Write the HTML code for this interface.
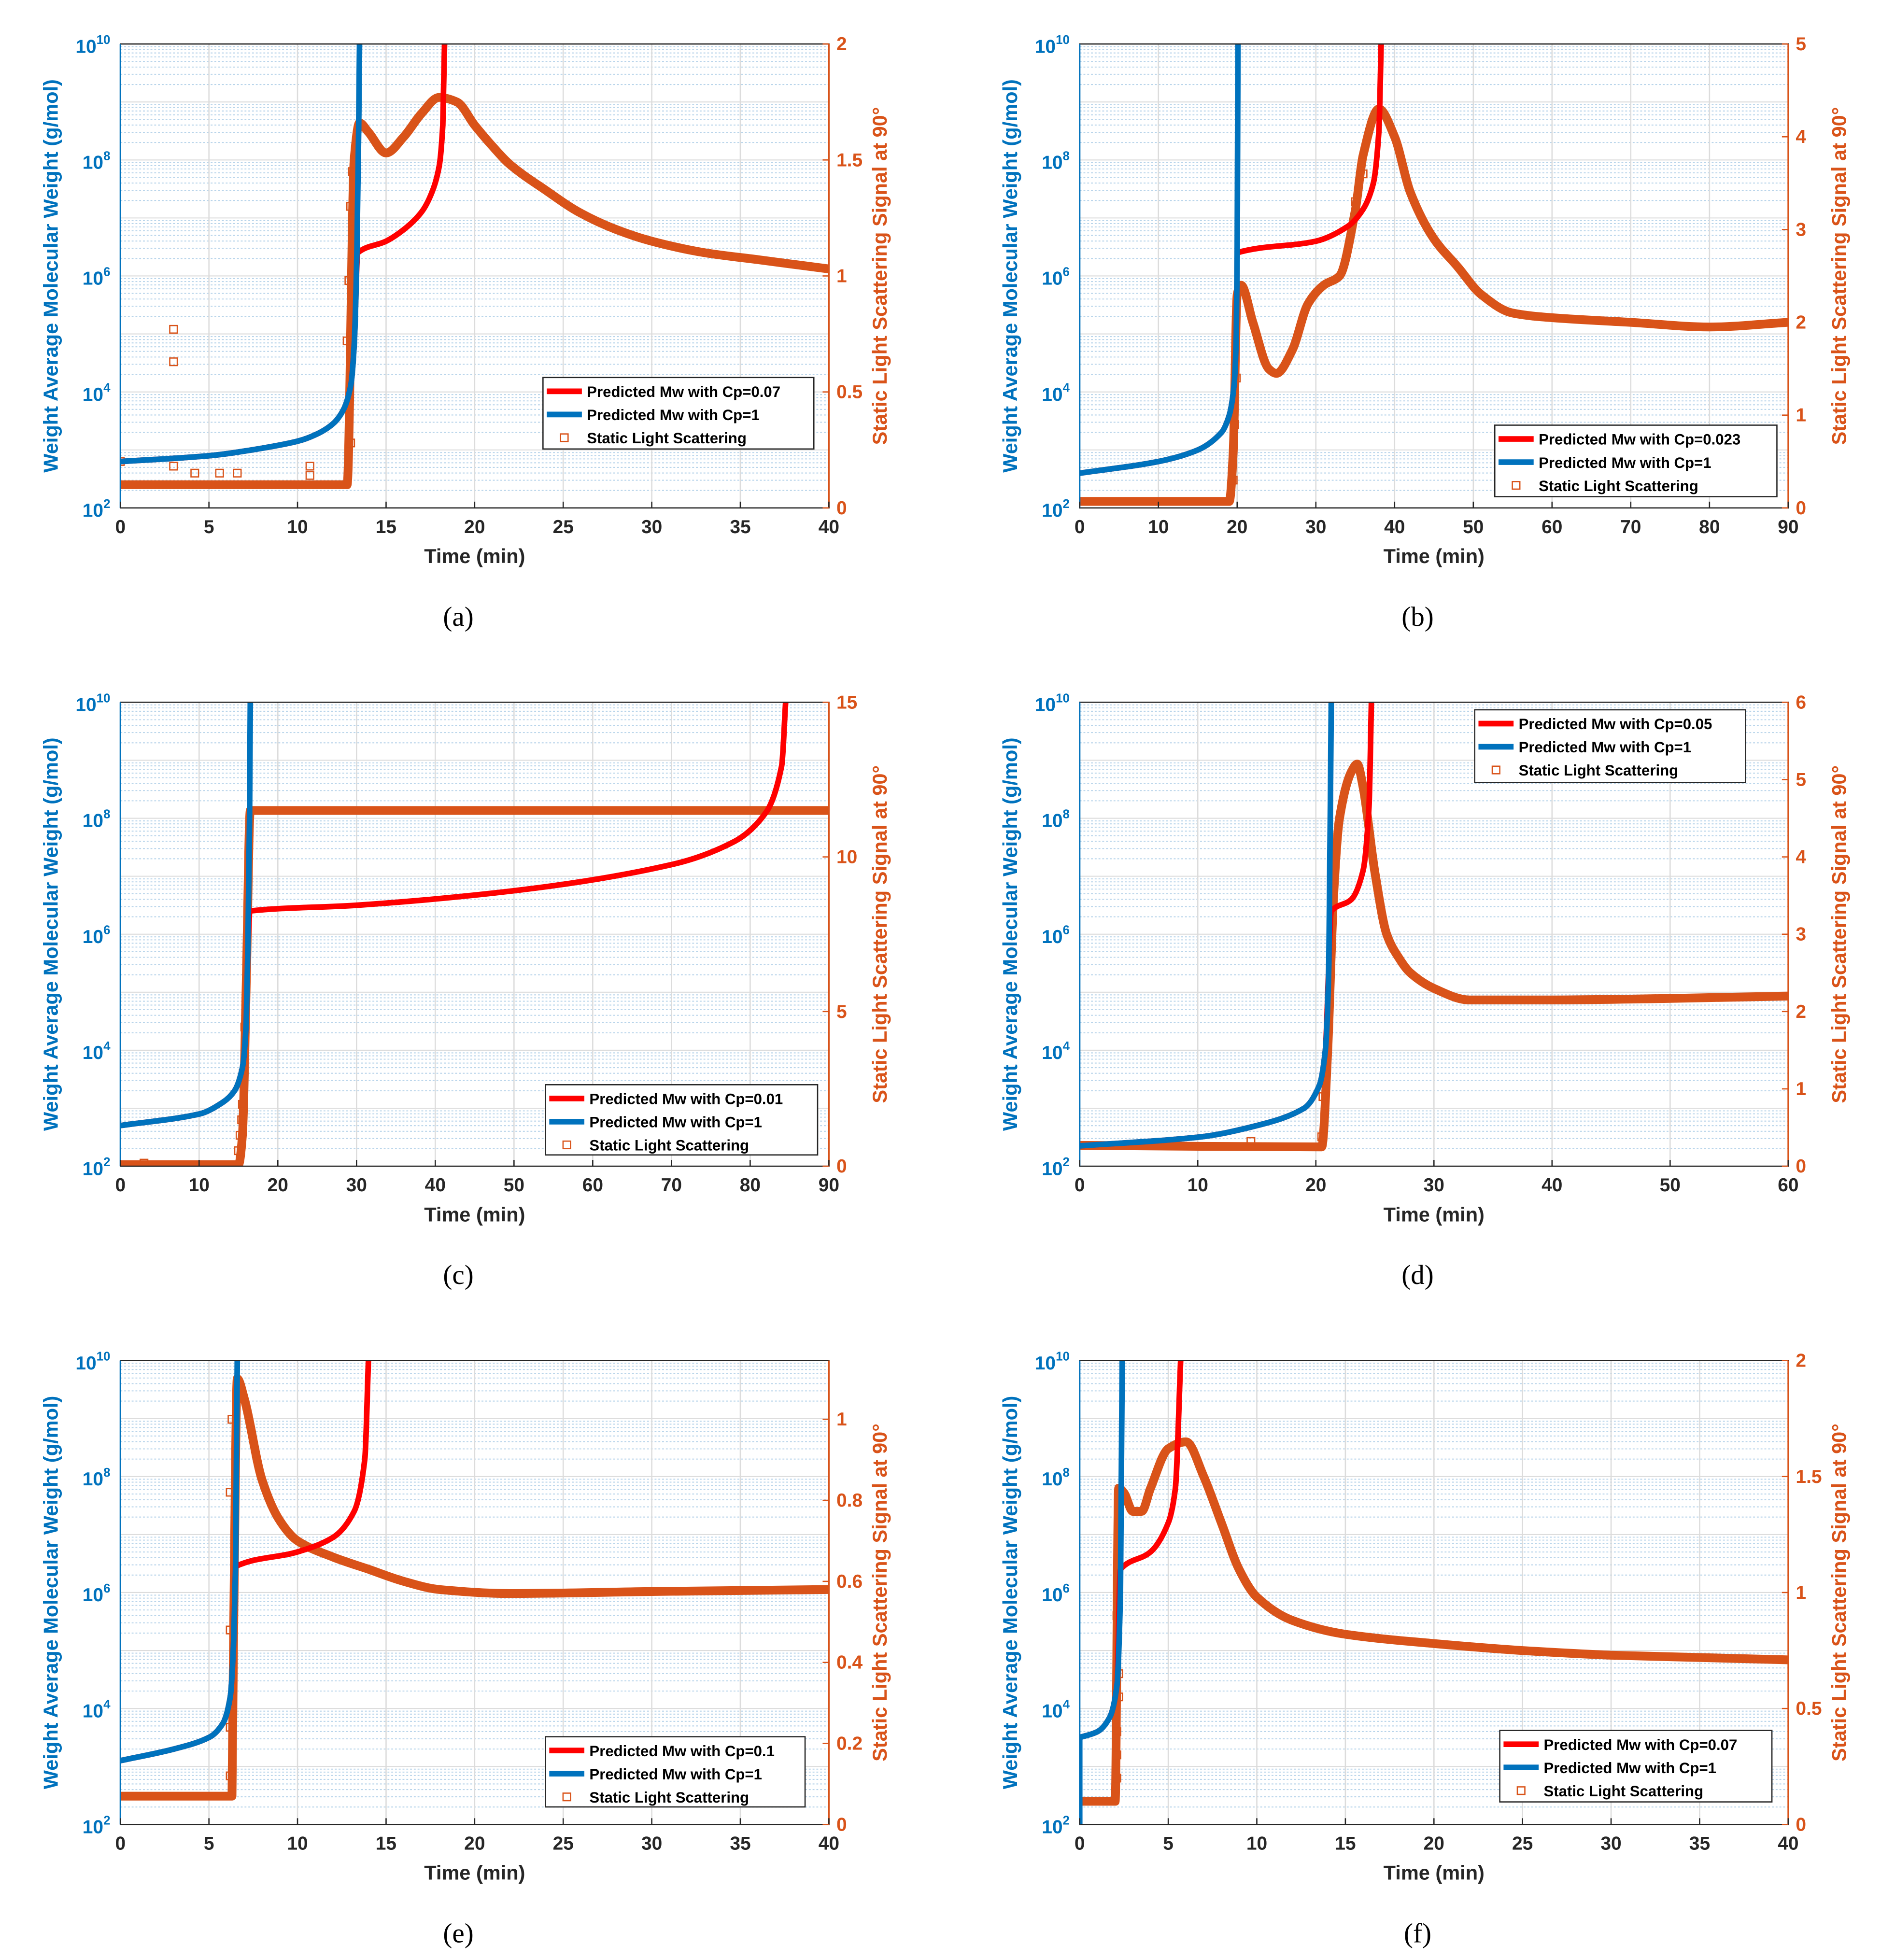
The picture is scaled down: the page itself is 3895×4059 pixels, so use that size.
<!DOCTYPE html>
<html><head><meta charset="utf-8"><style>
html,body{margin:0;padding:0;background:#fff;}
svg{display:block;}
text{font-family:"Liberation Sans",sans-serif;font-weight:bold;}
</style></head><body>
<svg id="fig" width="3895" height="4059" viewBox="0 0 1500 1563" xmlns="http://www.w3.org/2000/svg"></svg>
<script>
// ---- data (t in min, Mw as log10, SLS signal) ----
const aBlueT=[0,5,8,10,11,12,12.6,13,13.2,13.35,13.45,13.5];
const aBlueY=[2.8,2.9,3.03,3.15,3.26,3.45,3.7,4.1,4.8,6.4,8.5,10];
const aRedT=[0,5,8,10,11,12,12.6,13,13.2,13.4,15,16,17,17.6,18,18.2,18.3];
const aRedY=[2.8,2.9,3.03,3.15,3.26,3.45,3.7,4.1,4.8,6.4,6.6,6.8,7.1,7.45,7.9,8.6,10];
const aSlsT=[0,12.8,13.2,13.5,14,15,16,17,18,19,20,21,22,24,26,28,30,33,36,40];
const aSlsY=[0.1,0.1,1.5,1.66,1.62,1.53,1.6,1.7,1.77,1.75,1.65,1.56,1.48,1.37,1.27,1.2,1.15,1.1,1.07,1.03];
const aOutT=[3,3,0,3,13,12.8,12.9,13.1,13.1,13,13.1,4.2,5.6,6.6,10.7,10.7];
const aOutY=[0.77,0.63,0.2,0.18,0.28,0.72,0.98,1.2,1.25,1.3,1.45,0.15,0.15,0.15,0.18,0.14];

const bBlueT=[0,10,15,18,19,19.6,19.9,20,20.1];
const bBlueY=[2.6,2.8,3.0,3.3,3.6,4.1,5,6.4,10];
const bRedT=[0,10,15,18,19,19.6,19.9,20,30,34,36,37.3,38,38.3];
const bRedY=[2.6,2.8,3.0,3.3,3.6,4.1,5,6.4,6.6,6.85,7.15,7.6,8.5,10];
const bSlsT=[0,19,19.5,20,20.5,22,24,25,27,29,31,33,35,36,38,40,42,45,48,51,55,60,70,80,90];
const bSlsY=[0.07,0.07,0.6,2.3,2.4,2.0,1.5,1.45,1.7,2.2,2.4,2.5,3.2,3.8,4.3,4.0,3.4,2.9,2.6,2.3,2.1,2.05,2.0,1.95,2.0];
const bOutT=[19.5,19.7,19.9,35,36];
const bOutY=[0.3,0.9,1.4,3.3,3.6];

const cBlueT=[0,10,13,14.5,15.5,16,16.2,16.4,16.5];
const cBlueY=[2.7,2.9,3.1,3.3,3.7,4.5,5.8,8,10];
const cRedT=[0,10,13,14.5,15.5,16,16.2,16.4,30,50,70,78,82,84,84.5];
const cRedY=[2.7,2.9,3.1,3.3,3.7,4.5,5.8,6.4,6.5,6.75,7.2,7.6,8.1,8.9,10];
const cSlsT=[0,15,15.5,16,16.5,90];
const cSlsY=[0.05,0.05,1,6,11.5,11.5];
const cOutT=[3,15,15.2,15.4,15.5,15.6,15.8];
const cOutY=[0.1,0.5,1.0,1.5,2.0,3.0,4.5];

const dBlueT=[0,10,15,19,20.3,20.8,21.1,21.3];
const dBlueY=[2.35,2.5,2.7,3.0,3.4,4,5.5,10];
const dRedT=[0,10,15,19,20.3,20.8,21.1,21.3,23,24,24.5,24.7];
const dRedY=[2.35,2.5,2.7,3.0,3.4,4,5.5,6.4,6.6,7.1,8.2,10];
const dSlsT=[0,20.5,21,21.5,22,23,23.5,24,25,26,27,28,30,33,40,50,60];
const dSlsY=[0.27,0.25,1.5,3.5,4.5,5.1,5.2,4.9,3.8,3.0,2.7,2.5,2.3,2.15,2.15,2.17,2.2];
const dOutT=[14.5,20.5,20.6,20.8,21];
const dOutY=[0.32,0.38,0.9,1.2,1.6];

const eBlueT=[0,3,5,5.8,6.2,6.4,6.5,6.6];
const eBlueY=[3.1,3.3,3.5,3.75,4.2,5.2,6.4,10];
const eRedT=[0,3,5,5.8,6.2,6.4,6.5,10,12,13.2,13.8,14];
const eRedY=[3.1,3.3,3.5,3.75,4.2,5.2,6.45,6.7,6.95,7.4,8.3,10];
const eSlsT=[0,6.3,6.4,6.6,7,8,9,10,12,14,16,18,22,30,40];
const eSlsY=[0.07,0.07,0.5,1.1,1.05,0.85,0.75,0.7,0.66,0.63,0.6,0.58,0.57,0.575,0.58];
const eOutT=[6.2,6.2,6.2,6.2,6.3];
const eOutY=[0.12,0.24,0.48,0.82,1.0];

const fBlueT=[0,0,1,1.7,2.1,2.3,2.4];
const fBlueY=[2,3.5,3.6,3.85,4.4,6,10];
const fRedT=[0,1,1.7,2.1,2.3,4,5,5.4,5.7];
const fRedY=[3.5,3.6,3.85,4.4,6.4,6.7,7.2,7.8,10];
const fSlsT=[0,2,2.2,2.5,3,3.5,4,5,6,7,8,9,10,12,15,20,25,30,40];
const fSlsY=[0.1,0.1,1.45,1.43,1.35,1.35,1.45,1.62,1.65,1.5,1.3,1.1,0.98,0.88,0.82,0.78,0.75,0.73,0.71];
const fOutT=[2.1,2.1,2.1,2.2,2.2,2.1,2.2];
const fOutY=[0.4,0.3,0.2,0.55,0.65,0.9,1.3];

const panels=[
 {id:'a',x:96,y:35,xmax:40,xstep:5,rmax:2,rticks:[0,0.5,1,1.5,2],cp:'0.07',leg:[433,301,216,57],bT:aBlueT,bY:aBlueY,rT:aRedT,rY:aRedY,sT:aSlsT,sY:aSlsY,oT:aOutT,oY:aOutY},
 {id:'b',x:861,y:35,xmax:90,xstep:10,rmax:5,rticks:[0,1,2,3,4,5],cp:'0.023',leg:[1192,339,225,57],bT:bBlueT,bY:bBlueY,rT:bRedT,rY:bRedY,sT:bSlsT,sY:bSlsY,oT:bOutT,oY:bOutY},
 {id:'c',x:96,y:560,xmax:90,xstep:10,rmax:15,rticks:[0,5,10,15],cp:'0.01',leg:[435,865,217,56],bT:cBlueT,bY:cBlueY,rT:cRedT,rY:cRedY,sT:cSlsT,sY:cSlsY,oT:cOutT,oY:cOutY},
 {id:'d',x:861,y:560,xmax:60,xstep:10,rmax:6,rticks:[0,1,2,3,4,5,6],cp:'0.05',leg:[1176,566,216,58],bT:dBlueT,bY:dBlueY,rT:dRedT,rY:dRedY,sT:dSlsT,sY:dSlsY,oT:dOutT,oY:dOutY},
 {id:'e',x:96,y:1085,xmax:40,xstep:5,rmax:1.145,rticks:[0,0.2,0.4,0.6,0.8,1],cp:'0.1',leg:[435,1385,207,56],bT:eBlueT,bY:eBlueY,rT:eRedT,rY:eRedY,sT:eSlsT,sY:eSlsY,oT:eOutT,oY:eOutY},
 {id:'f',x:861,y:1085,xmax:40,xstep:5,rmax:2,rticks:[0,0.5,1,1.5,2],cp:'0.07',leg:[1196,1380,217,57],bT:fBlueT,bY:fBlueY,rT:fRedT,rY:fRedY,sT:fSlsT,sY:fSlsY,oT:fOutT,oY:fOutY}
];
const W=565,H=370,BLUE='#0072BD',ORG='#D95319',RED='#FF0000';
const svg=document.getElementById('fig');
const NS='http://www.w3.org/2000/svg';
function mk(tag,attrs,parent,text){const e=document.createElementNS(NS,tag);for(const k in attrs)e.setAttribute(k,attrs[k]);if(text!==undefined)e.textContent=text;parent.appendChild(e);return e;}

// monotone cubic path through screen points (x increasing); straight lines where dx<=0
function smoothPath(xs,ys){
 const n=xs.length;let d='M'+xs[0].toFixed(1)+','+ys[0].toFixed(1);
 if(n<3){for(let i=1;i<n;i++)d+='L'+xs[i].toFixed(1)+','+ys[i].toFixed(1);return d;}
 const s=[];for(let i=0;i<n-1;i++){const dx=xs[i+1]-xs[i];s.push(dx>0.01?(ys[i+1]-ys[i])/dx:null);}
 const m=[];for(let i=0;i<n;i++){
  const a=i>0?s[i-1]:null,b=i<n-1?s[i]:null;
  if(a===null&&b===null)m.push(0);
  else if(a===null)m.push(b);else if(b===null)m.push(a);
  else if(a*b<=0)m.push(0);else m.push(2/(1/a+1/b));
 }
 for(let i=0;i<n-1;i++){const dx=xs[i+1]-xs[i];
  if(s[i]===null||dx<1.5){d+='L'+xs[i+1].toFixed(1)+','+ys[i+1].toFixed(1);continue;}
  const c1x=xs[i]+dx/3,c1y=ys[i]+m[i]*dx/3,c2x=xs[i+1]-dx/3,c2y=ys[i+1]-m[i+1]*dx/3;
  d+='C'+c1x.toFixed(1)+','+c1y.toFixed(1)+' '+c2x.toFixed(1)+','+c2y.toFixed(1)+' '+xs[i+1].toFixed(1)+','+ys[i+1].toFixed(1);}
 return d;}

panels.forEach(p=>{
 const g=mk('g',{},svg);
 
 
 const X=t=>p.x+Math.min(t,p.xmax)/p.xmax*W;
 const YL=l=>p.y+H-(l-2)/8*H;
 const YR=v=>p.y+H-v/p.rmax*H;
 const cp=mk('clipPath',{id:'clip'+p.id},g);mk('rect',{x:p.x,y:p.y,width:W,height:H},cp);
 for(let d=2;d<10;d++)for(let m=2;m<10;m++){const yy=YL(d+Math.log10(m));
  const l=mk('line',{x1:p.x,x2:p.x+W,y1:yy,y2:yy,stroke:'#b8d4ea','stroke-width':0.8,'stroke-dasharray':'1.5,1.5'},g);
  }
 for(let d=2;d<=10;d+=1){const yy=YL(d);const l=mk('line',{x1:p.x,x2:p.x+W,y1:yy,y2:yy,stroke:'#dcdcdc','stroke-width':0.8},g);
  }
 for(let t=p.xstep;t<p.xmax;t+=p.xstep){const xx=X(t);const l=mk('line',{x1:xx,x2:xx,y1:p.y,y2:p.y+H,stroke:'#dcdcdc','stroke-width':1},g);
  }
 const data=mk('g',{'clip-path':'url(#clip'+p.id+')'},g);
 const sl=mk('path',{d:smoothPath(p.sT.map(X),p.sY.map(YR)),fill:'none',stroke:ORG,'stroke-width':7,'stroke-linejoin':'round'},data);
 
 p.oT.forEach((t,i)=>{const r=mk('rect',{x:X(t)-3,y:YR(p.oY[i])-3,width:6,height:6,fill:'none',stroke:ORG,'stroke-width':1},data);
  });
 const rl=mk('path',{d:smoothPath(p.rT.map(X),p.rY.map(YL)),fill:'none',stroke:RED,'stroke-width':4.5},data);
 
 const bl=mk('path',{d:smoothPath(p.bT.map(X),p.bY.map(YL)),fill:'none',stroke:BLUE,'stroke-width':4.5},data);
 
 const ax=mk('rect',{x:p.x,y:p.y,width:W,height:H,fill:'none',stroke:'#262626','stroke-width':1},g);
 
 mk('line',{x1:p.x,x2:p.x,y1:p.y,y2:p.y+H,stroke:BLUE,'stroke-width':1.2},g);
 mk('line',{x1:p.x+W,x2:p.x+W,y1:p.y,y2:p.y+H,stroke:ORG,'stroke-width':1.2},g);
 for(let t=0;t<=p.xmax;t+=p.xstep){const xx=X(t);mk('line',{x1:xx,x2:xx,y1:p.y+H,y2:p.y+H-5,stroke:'#262626'},g);
  const tx=mk('text',{x:xx,y:p.y+H+20,'text-anchor':'middle','font-size':15,fill:'#262626'},g,String(t));
  }
 const xt=mk('text',{x:p.x+W/2,y:p.y+H+44,'text-anchor':'middle','font-size':16,fill:'#262626'},g,'Time (min)');
 
 for(let e=2;e<=10;e+=2){const yy=YL(e);
  const tx=mk('text',{x:p.x-8,y:yy+7,'text-anchor':'end','font-size':15,fill:BLUE},g);
  
  mk('tspan',{},tx,'10');mk('tspan',{dy:-7,'font-size':10},tx,String(e));}
 const lt=mk('text',{transform:`translate(${p.x-50},${p.y+H/2}) rotate(-90)`,'text-anchor':'middle','font-size':16,fill:BLUE},g,'Weight Average Molecular Weight (g/mol)');
 
 p.rticks.forEach(v=>{const yy=YR(v);mk('line',{x1:p.x+W,x2:p.x+W-5,y1:yy,y2:yy,stroke:ORG},g);
  const tx=mk('text',{x:p.x+W+6,y:yy+5,'font-size':15,fill:ORG},g,String(v));
  });
 const rt=mk('text',{transform:`translate(${p.x+W+46},${p.y+H/2}) rotate(-90)`,'text-anchor':'middle','font-size':16,fill:ORG},g,'Static Light Scattering Signal at 90°');
 
 const [lx,ly,lw,lh]=p.leg;
 const lg=mk('g',{},g);
 mk('rect',{x:lx,y:ly,width:lw,height:lh,fill:'#fff',stroke:'#262626','stroke-width':1},lg);
 const rows=[['Predicted Mw with Cp='+p.cp,RED,'line'],['Predicted Mw with Cp=1',BLUE,'line'],['Static Light Scattering',ORG,'sq']];
 rows.forEach((r,i)=>{const yy=ly+11+i*18.5;
  if(r[2]==='line')mk('line',{x1:lx+3,x2:lx+31,y1:yy,y2:yy,stroke:r[1],'stroke-width':4.5},lg);
  else mk('rect',{x:lx+14,y:yy-3,width:6,height:6,fill:'none',stroke:r[1]},lg);
  const tx=mk('text',{x:lx+35,y:yy+4.5,'font-size':12,fill:'#000'},lg,r[0]);
  });
 const cap=mk('text',{x:p.x+W/2-13,y:p.y+H+94,'text-anchor':'middle','font-size':22,fill:'#000',style:'font-family:"Liberation Serif",serif;font-weight:normal'},g,'('+p.id+')');
 
});
</script>
</body></html>
